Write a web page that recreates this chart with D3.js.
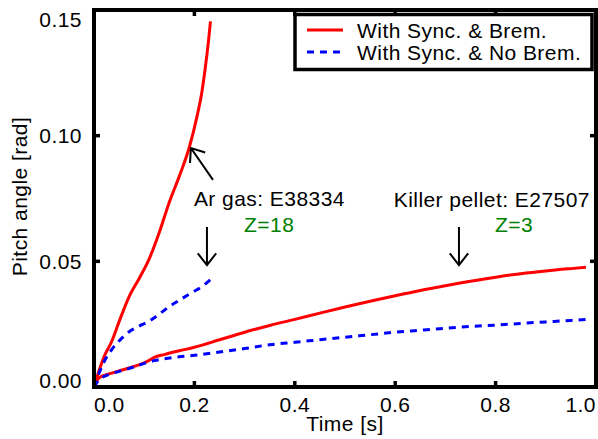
<!DOCTYPE html>
<html>
<head>
<meta charset="utf-8">
<script src="https://cdn.jsdelivr.net/npm/d3@7"></script>
<style>
  body { margin: 0; background: #fff; }
  svg text { font-family: "Liberation Sans", Arial, Helvetica, sans-serif; font-size: 21px; letter-spacing: 0.45px; fill: #000; }
</style>
</head>
<body>
<div class="chart"></div>
<script>
// Ar gas shot E38334
var arTime = [0, 0.01, 0.02, 0.035, 0.05, 0.07, 0.09, 0.11, 0.13, 0.15, 0.17, 0.19, 0.205, 0.215, 0.222, 0.228, 0.232];
var arBrem = [0, 0.0065, 0.012, 0.018, 0.026, 0.036, 0.0432, 0.051, 0.0615, 0.0735, 0.0839, 0.0955, 0.1075, 0.1175, 0.1275, 0.1375, 0.1455];
var arNoBrem = [0, 0.0055, 0.010, 0.0148, 0.0183, 0.022, 0.0242, 0.0262, 0.029, 0.032, 0.0345, 0.037, 0.0387, 0.0399, 0.041, 0.042, 0.0427];

// Killer pellet shot E27507
var kpTime = [0, 0.01, 0.03, 0.05, 0.08, 0.1, 0.11, 0.12, 0.14, 0.17, 0.2, 0.25, 0.3, 0.35, 0.4, 0.45, 0.5, 0.55, 0.6, 0.65, 0.7, 0.75, 0.8, 0.85, 0.9, 0.95, 0.98];
var kpBrem = [0, 0.0036, 0.0052, 0.0064, 0.0082, 0.0096, 0.0106, 0.0118, 0.0129, 0.0144, 0.0158, 0.0188, 0.0218, 0.0245, 0.0269, 0.0294, 0.0318, 0.0341, 0.0363, 0.0384, 0.0403, 0.0421, 0.0437, 0.0451, 0.0462, 0.0471, 0.0476];
var kpNoBrem = [0, 0.0028, 0.005, 0.0062, 0.008, 0.0094, 0.01, 0.0105, 0.0112, 0.012, 0.0126, 0.0139, 0.0153, 0.0168, 0.0178, 0.0188, 0.0198, 0.0208, 0.0218, 0.0226, 0.0234, 0.0241, 0.0246, 0.0253, 0.0259, 0.0265, 0.0269];

var xTicks = [0, 0.2, 0.4, 0.6, 0.8, 1.0];
var yTicks = [0, 0.05, 0.10, 0.15];
var legendLabels = ['With Sync. & Brem.', 'With Sync. & No Brem.'];

var width = 598, height = 439;
var margin = { top: 10, right: 2, bottom: 52, left: 94 };

var svg = d3.select('.chart')
    .append('svg')
    .attr('width', width)
    .attr('height', height);

var xScale = d3.scaleLinear().domain([0, 1.0]).range([margin.left, width - margin.right]);
var yScale = d3.scaleLinear().domain([0, 0.15]).range([height - margin.bottom, margin.top]);

var x0 = xScale.range()[0], x1 = xScale.range()[1];
var y0 = yScale.range()[0], y1 = yScale.range()[1];

/**
 * curves
 */
var line = d3.line()
    .x(d => xScale(d[0]))
    .y(d => yScale(d[1]))
    .curve(d3.curveMonotoneX);

var series = [
    { t: arTime, v: arBrem, brem: true },
    { t: arTime, v: arNoBrem, brem: false },
    { t: kpTime, v: kpBrem, brem: true },
    { t: kpTime, v: kpNoBrem, brem: false }
];

svg.append('g')
    .selectAll('path')
    .data(series)
    .enter()
    .append('path')
    .attr('d', d => line(d.t.map((t, i) => [t, d.v[i]])))
    .attr('fill', 'none')
    .attr('stroke', d => d.brem ? '#ff0000' : '#0000ff')
    .attr('stroke-width', 3)
    .attr('stroke-dasharray', d => d.brem ? null : '7,6');

/**
 * frame + inside ticks on all sides
 */
var frame = svg.append('g');
var tickLen = 6;
xTicks.forEach(function (t) {
    frame.append('line')
        .attr('x1', xScale(t)).attr('x2', xScale(t))
        .attr('y1', y0).attr('y2', y0 - tickLen);
    frame.append('line')
        .attr('x1', xScale(t)).attr('x2', xScale(t))
        .attr('y1', y1).attr('y2', y1 + tickLen);
});
yTicks.forEach(function (v) {
    frame.append('line')
        .attr('x1', x0).attr('x2', x0 + tickLen)
        .attr('y1', yScale(v)).attr('y2', yScale(v));
    frame.append('line')
        .attr('x1', x1).attr('x2', x1 - tickLen)
        .attr('y1', yScale(v)).attr('y2', yScale(v));
});
frame.selectAll('line').attr('stroke', '#000').attr('stroke-width', 3.5);
frame.append('rect')
    .attr('x', x0).attr('y', y1)
    .attr('width', x1 - x0).attr('height', y0 - y1)
    .attr('fill', 'none')
    .attr('stroke', '#000')
    .attr('stroke-width', 4);

// tick labels (edge labels pulled inside like the original)
svg.append('g')
    .selectAll('text')
    .data(xTicks)
    .enter()
    .append('text')
    .attr('x', d => xScale(d))
    .attr('y', y0 + 25)
    .attr('text-anchor', (d, i) => i === 0 ? 'start' : (i === xTicks.length - 1 ? 'end' : 'middle'))
    .text(d3.format('.1f'));

svg.append('g')
    .selectAll('text')
    .data(yTicks)
    .enter()
    .append('text')
    .attr('x', x0 - 12)
    .attr('y', (d, i) => i === 0 ? y0 + 1 : (i === yTicks.length - 1 ? y1 + 17 : yScale(d) + 7.5))
    .attr('text-anchor', 'end')
    .text(d3.format('.2f'));

// axis titles
svg.append('text')
    .attr('x', (x0 + x1) / 2)
    .attr('y', 431)
    .attr('text-anchor', 'middle')
    .text('Time [s]');

svg.append('text')
    .attr('transform', 'translate(27,' + ((y0 + y1) / 2 - 2) + ') rotate(-90)')
    .attr('text-anchor', 'middle')
    .text('Pitch angle [rad]');

/**
 * annotations
 */
var notes = [
    { text: 'Ar gas: E38334', t: 0.199, v: 0.072, color: '#000' },
    { text: 'Z=18', t: 0.299, v: 0.0617, color: '#008000' },
    { text: 'Killer pellet: E27507', t: 0.597, v: 0.0716, color: '#000' },
    { text: 'Z=3', t: 0.799, v: 0.0617, color: '#008000' }
];
svg.append('g')
    .selectAll('text')
    .data(notes)
    .enter()
    .append('text')
    .attr('x', d => xScale(d.t))
    .attr('y', d => yScale(d.v))
    .style('fill', d => d.color)
    .text(d => d.text);

// arrows: from tail to tip
var arrows = [
    { from: [0.237, 0.0824], to: [0.193, 0.0951] },
    { from: [0.225, 0.0637], to: [0.225, 0.0485] },
    { from: [0.727, 0.0637], to: [0.727, 0.0485] }
];
var headLen = 15, headAng = 38 * Math.PI / 180;
var arrowG = svg.append('g')
    .attr('fill', 'none')
    .attr('stroke', '#000')
    .attr('stroke-width', 2);
arrows.forEach(function (a) {
    var ax = xScale(a.from[0]), ay = yScale(a.from[1]);
    var bx = xScale(a.to[0]), by = yScale(a.to[1]);
    var ang = Math.atan2(ay - by, ax - bx);
    var p = d3.path();
    p.moveTo(ax, ay);
    p.lineTo(bx, by);
    p.moveTo(bx + headLen * Math.cos(ang - headAng), by + headLen * Math.sin(ang - headAng));
    p.lineTo(bx, by);
    p.lineTo(bx + headLen * Math.cos(ang + headAng), by + headLen * Math.sin(ang + headAng));
    arrowG.append('path').attr('d', p.toString());
});

/**
 * legend
 */
var legend = svg.append('g').attr('transform', 'translate(295,14.5)');
legend.append('rect')
    .attr('width', 297)
    .attr('height', 55)
    .attr('fill', '#fff')
    .attr('stroke', '#000')
    .attr('stroke-width', 3.5);
var rows = legend.selectAll('g.row')
    .data(legendLabels)
    .enter()
    .append('g')
    .attr('class', 'row')
    .attr('transform', (d, i) => 'translate(0,' + (15.5 + i * 22) + ')');
rows.append('line')
    .attr('x1', 12).attr('x2', 48)
    .attr('stroke', (d, i) => i === 0 ? '#ff0000' : '#0000ff')
    .attr('stroke-width', 3)
    .attr('stroke-dasharray', (d, i) => i === 0 ? null : '7,6');
rows.append('text')
    .attr('x', 62)
    .attr('y', 7.5)
    .text(d => d);
</script>
</body>
</html>
